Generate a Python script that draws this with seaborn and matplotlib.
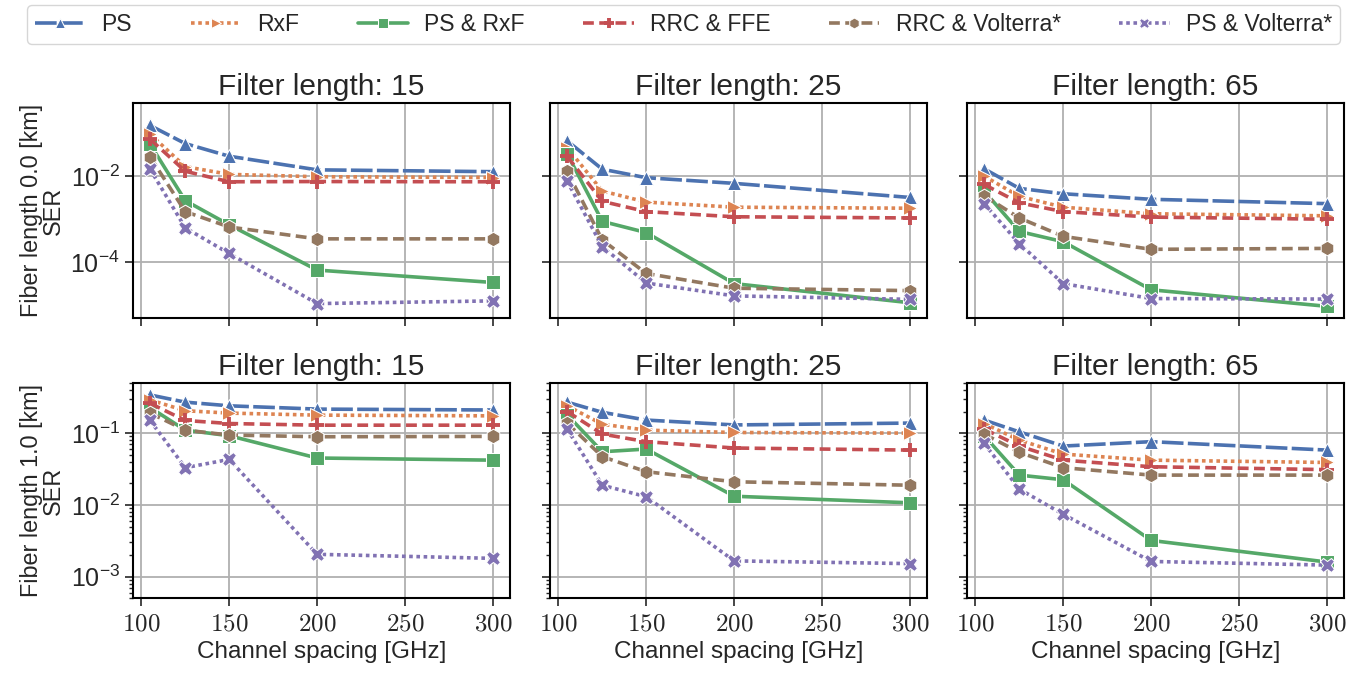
import numpy as np
import pandas as pd
import matplotlib
matplotlib.use("Agg")
import matplotlib.pyplot as plt
import seaborn as sns
from matplotlib.ticker import FuncFormatter

# Channel spacing [GHz] of the sweep
spacing = [105, 125, 150, 200, 300]
methods = ["PS", "RxF", "PS & RxF", "RRC & FFE", "RRC & Volterra*", "PS & Volterra*"]
filter_lengths = [15, 25, 65]
fiber_lengths = [0.0, 1.0]
x_ticks = [100, 150, 200, 250, 300]

# SER, rows follow `methods`, columns follow `spacing`
ser_fib0_flt15 = [
    [0.15, 0.057, 0.029, 0.014, 0.0127],
    [0.094, 0.0166, 0.011, 0.0097, 0.0093],
    [0.055, 0.0027, 7.4e-4, 6.6e-5, 3.4e-5],
    [0.072, 0.013, 0.0074, 0.0075, 0.0074],
    [0.028, 0.0015, 6.6e-4, 3.5e-4, 3.5e-4],
    [0.0145, 6.3e-4, 1.6e-4, 1.1e-5, 1.27e-5],
]
ser_fib0_flt25 = [
    [0.066, 0.0145, 0.0092, 0.0068, 0.0032],
    [0.046, 0.0045, 0.0025, 0.0019, 0.0018],
    [0.033, 8.9e-4, 4.9e-4, 3.2e-5, 1.15e-5],
    [0.029, 0.0026, 0.0015, 0.00114, 0.00107],
    [0.013, 3.3e-4, 5.5e-5, 2.5e-5, 2.2e-5],
    [0.0077, 2.3e-4, 3.3e-5, 1.66e-5, 1.38e-5],
]
ser_fib0_flt65 = [
    [0.0148, 0.0052, 0.0039, 0.0029, 0.0023],
    [0.010, 0.0034, 0.0019, 0.00134, 0.0012],
    [0.0045, 5.2e-4, 3.0e-4, 2.3e-5, 9.5e-6],
    [0.0064, 0.0024, 0.0015, 0.00112, 0.0010],
    [0.0035, 0.00107, 4.0e-4, 2.0e-4, 2.1e-4],
    [0.0023, 2.7e-4, 3.2e-5, 1.44e-5, 1.4e-5],
]
ser_fib1_flt15 = [
    [0.34, 0.27, 0.24, 0.216, 0.21],
    [0.29, 0.205, 0.19, 0.178, 0.174],
    [0.227, 0.11, 0.092, 0.045, 0.042],
    [0.26, 0.15, 0.136, 0.129, 0.129],
    [0.19, 0.11, 0.094, 0.089, 0.09],
    [0.15, 0.033, 0.043, 0.00205, 0.0018],
]
ser_fib1_flt25 = [
    [0.27, 0.195, 0.152, 0.13, 0.138],
    [0.24, 0.133, 0.11, 0.102, 0.1],
    [0.18, 0.055, 0.06, 0.0132, 0.0107],
    [0.2, 0.097, 0.076, 0.062, 0.058],
    [0.138, 0.047, 0.029, 0.021, 0.0188],
    [0.114, 0.0188, 0.013, 0.00166, 0.00152],
]
ser_fib1_flt65 = [
    [0.152, 0.104, 0.066, 0.076, 0.058],
    [0.136, 0.08, 0.051, 0.042, 0.039],
    [0.092, 0.026, 0.0224, 0.0032, 0.0016],
    [0.114, 0.066, 0.042, 0.034, 0.031],
    [0.097, 0.054, 0.033, 0.026, 0.026],
    [0.072, 0.0166, 0.0074, 0.00163, 0.00145],
]

panels = {
    (0.0, 15): ser_fib0_flt15, (0.0, 25): ser_fib0_flt25, (0.0, 65): ser_fib0_flt65,
    (1.0, 15): ser_fib1_flt15, (1.0, 25): ser_fib1_flt25, (1.0, 65): ser_fib1_flt65,
}

rows = []
for (fib, flt), table in panels.items():
    for m, vals in zip(methods, table):
        for sp, v in zip(spacing, vals):
            rows.append({"fiber": fib, "filter": flt, "method": m, "spacing": sp, "SER": v})
df = pd.DataFrame(rows)

colors = {"PS": "#4C72B0", "RxF": "#DD8452", "PS & RxF": "#55A868",
          "RRC & FFE": "#C44E52", "RRC & Volterra*": "#937860", "PS & Volterra*": "#8172B3"}
markers = {"PS": "^", "RxF": ">", "PS & RxF": "s",
           "RRC & FFE": "P", "RRC & Volterra*": "h", "PS & Volterra*": "X"}
dashes = {"PS": (6, 1.2), "RxF": (1, 1), "PS & RxF": "",
          "RRC & FFE": (3, 1.5), "RRC & Volterra*": (3, 1.5), "PS & Volterra*": (1, 1)}


def fix_plus(lines, mew):
    # seaborn won't mix "+" with filled markers, so swap it in afterwards
    for ln in lines:
        if ln.get_marker() == "P":
            ln.set_marker("+")
            ln.set_markeredgecolor(ln.get_color())
            ln.set_markeredgewidth(mew)


sns.set_theme(style="ticks", rc={
    "axes.grid": True, "grid.color": "#b0b0b0", "grid.linewidth": 1.3,
    "axes.edgecolor": "black", "axes.linewidth": 1.5,
    "xtick.major.size": 6, "ytick.major.size": 6, "ytick.minor.size": 3,
    "xtick.major.width": 1.2, "ytick.major.width": 1.2,
})
plt.rcParams["font.family"] = ["Liberation Sans", "DejaVu Sans"]
plt.rcParams["mathtext.fontset"] = "cm"

fig, axes = plt.subplots(2, 3, figsize=(13.5, 6.73), dpi=100, sharex=True, sharey="row")
fig.subplots_adjust(left=0.0985, right=0.9956, top=0.847, bottom=0.111, wspace=0.106, hspace=0.30)

ylims = {0.0: (5e-6, 0.5), 1.0: (5e-4, 0.5)}
for i, fib in enumerate(fiber_lengths):
    for j, flt in enumerate(filter_lengths):
        ax = axes[i, j]
        sub = df[(df["fiber"] == fib) & (df["filter"] == flt)]
        sns.lineplot(data=sub, x="spacing", y="SER", hue="method", style="method",
                     hue_order=methods, style_order=methods, palette=colors,
                     markers=markers, dashes=dashes, linewidth=2.6, markersize=10.5,
                     ax=ax, legend=(i == 0 and j == 0))
        fix_plus(ax.lines, 2.8)
        ax.set_yscale("log")
        ax.set_ylim(*ylims[fib])
        ax.set_xticks(x_ticks)
        ax.set_title(f"Filter length: {flt}", fontsize=21.5)
        ax.xaxis.set_major_formatter(FuncFormatter(lambda v, p: f"${v:.0f}$"))
        ax.tick_params(labelsize=18)
        if i == 1:
            ax.set_xlabel("Channel spacing [GHz]", fontsize=17.5)
        else:
            ax.set_xlabel("")
        if j == 0:
            ax.set_ylabel(f"Fiber length {fib:.1f} [km]\nSER", fontsize=16.8, linespacing=0.95)
        else:
            ax.set_ylabel("")

handles, labels = axes[0, 0].get_legend_handles_labels()
axes[0, 0].get_legend().remove()
fix_plus(handles, 2.0)
fig.legend(handles, labels, loc="upper center", ncol=6, mode="expand",
           bbox_to_anchor=(0.02, 0.5, 0.9726, 0.4926), borderaxespad=0,
           fontsize=16.5, frameon=True, edgecolor="#cccccc",
           handlelength=2.2, handletextpad=0.7, markerscale=0.75, borderpad=0.35)

fig.savefig("out.png", dpi=100)
